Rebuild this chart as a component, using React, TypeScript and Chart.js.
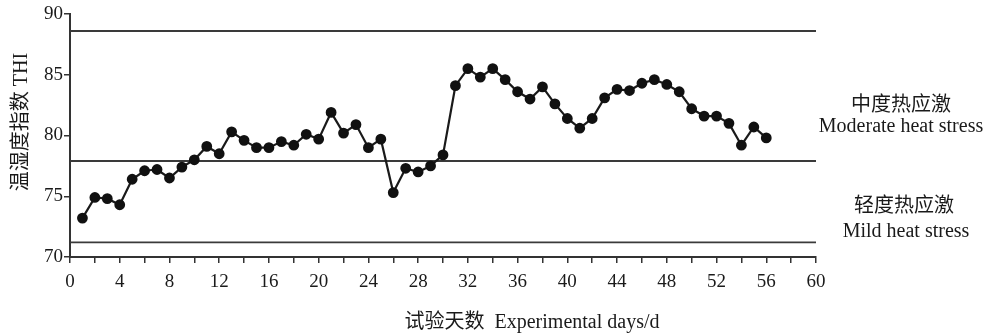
import React, { useEffect, useRef } from "react";
import { Chart, registerables } from "chart.js";

Chart.register(...registerables);

const days: number[] = Array.from({ length: 56 }, (_, i) => i + 1);
const thiValues: number[] = [
  73.2, 74.9, 74.8, 74.3, 76.4, 77.1, 77.2, 76.5, 77.4, 78.0,
  79.1, 78.5, 80.3, 79.6, 79.0, 79.0, 79.5, 79.2, 80.1, 79.7,
  81.9, 80.2, 80.9, 79.0, 79.7, 75.3, 77.3, 77.0, 77.5, 78.4,
  84.1, 85.5, 84.8, 85.5, 84.6, 83.6, 83.0, 84.0, 82.6, 81.4,
  80.6, 81.4, 83.1, 83.8, 83.7, 84.3, 84.6, 84.2, 83.6, 82.2,
  81.6, 81.6, 81.0, 79.2, 80.7, 79.8,
];
const thresholdValues: number[] = [88.6, 77.9, 71.2];
const thresholdRange: number[] = [0, 60];
const yTitle = "温湿度指数 THI";
const xTitle = "试验天数  Experimental days/d";
const zoneLabelsCn: string[] = ["中度热应激", "轻度热应激"];
const zoneLabelsEn: string[] = ["Moderate heat stress", "Mild heat stress"];

const SERIF = '"Liberation Serif", "Noto Sans CJK SC", serif';

const textPlugin = {
  id: "textPlugin",
  afterDraw(chart: any) {
    const ctx = chart.ctx;
    ctx.save();
    ctx.fillStyle = "#1a1a1a";
    ctx.textAlign = "center";
    ctx.textBaseline = "middle";
    ctx.font = `20px ${SERIF}`;
    ctx.fillText(xTitle, 532, 323);
    ctx.fillText(zoneLabelsCn[0], 901, 106);
    ctx.fillText(zoneLabelsEn[0], 901, 127);
    ctx.fillText(zoneLabelsCn[1], 904, 207);
    ctx.fillText(zoneLabelsEn[1], 906, 232);
    ctx.translate(22, 122);
    ctx.rotate(-Math.PI / 2);
    ctx.fillText(yTitle, 0, 0);
    ctx.restore();
  },
};

export default function App() {
  const ref = useRef<HTMLCanvasElement | null>(null);
  useEffect(() => {
    if (!ref.current) return;
    const thresholdSets = thresholdValues.map((v) => ({
      data: thresholdRange.map((x) => ({ x, y: v })),
      borderColor: "#3a3a3a",
      borderWidth: 1.8,
      pointRadius: 0,
      fill: false,
    }));
    const chart = new Chart(ref.current, {
      type: "line",
      data: {
        datasets: [
          {
            data: days.map((d, i) => ({ x: d, y: thiValues[i] })),
            borderColor: "#1a1a1a",
            borderWidth: 2.2,
            pointRadius: 4.3,
            pointBackgroundColor: "#111",
            pointBorderColor: "#111",
            fill: false,
            tension: 0,
          },
          ...thresholdSets,
        ],
      },
      options: {
        responsive: false,
        animation: false,
        layout: { padding: { left: 0, top: 14, right: 180, bottom: 0 } },
        plugins: { legend: { display: false }, tooltip: { enabled: false } },
        scales: {
          x: {
            type: "linear",
            min: 0,
            max: 60,
            ticks: {
              stepSize: 2,
              autoSkip: false,
              maxRotation: 0,
              padding: 8,
              color: "#1a1a1a",
              font: { family: SERIF, size: 19 },
              callback: (v: any) => (Number(v) % 4 === 0 ? String(v) : ""),
            },
            grid: { drawOnChartArea: false, drawTicks: true, tickLength: 6, color: "#333", lineWidth: 1.5 },
            border: { display: true, color: "#333", width: 2 },
            afterFit: (s: any) => { s.height = 78; },
          },
          y: {
            min: 70,
            max: 90,
            ticks: {
              stepSize: 5,
              padding: 1,
              color: "#1a1a1a",
              font: { family: SERIF, size: 19 },
            },
            grid: { drawOnChartArea: false, drawTicks: true, tickLength: 6, color: "#333", lineWidth: 1.5 },
            border: { display: true, color: "#333", width: 2 },
            afterFit: (s: any) => { s.width = 70; },
          },
        },
      },
      plugins: [textPlugin],
    });
    return () => chart.destroy();
  }, []);
  return (
    <div style={{ position: "fixed", left: 0, top: 0, width: 996, height: 335, background: "#fff" }}>
      <canvas ref={ref} width={996} height={335} />
    </div>
  );
}
